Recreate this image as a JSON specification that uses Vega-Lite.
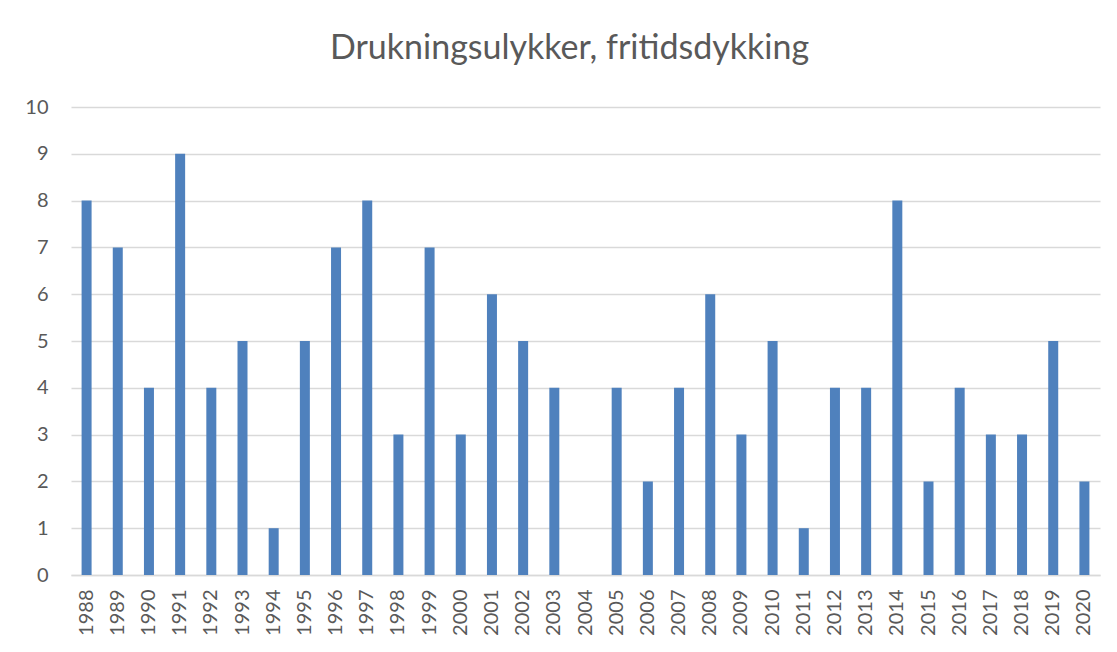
{
  "$schema": "https://vega.github.io/schema/vega-lite/v6.json",
  "autosize": {"type": "none"},
  "width": 1029,
  "height": 468,
  "padding": {"left": 71, "top": 107, "right": 17, "bottom": 77},
  "background": "white",
  "title": {
    "text": "Drukningsulykker, fritidsdykking",
    "font": "Lato",
    "fontSize": 34,
    "fontWeight": "normal",
    "color": "#595959",
    "anchor": "middle",
    "frame": "group",
    "dx": -16,
    "baseline": "alphabetic",
    "offset": 4
  },
  "data": {
    "values": [
      {"year": "1988", "count": 8},
      {"year": "1989", "count": 7},
      {"year": "1990", "count": 4},
      {"year": "1991", "count": 9},
      {"year": "1992", "count": 4},
      {"year": "1993", "count": 5},
      {"year": "1994", "count": 1},
      {"year": "1995", "count": 5},
      {"year": "1996", "count": 7},
      {"year": "1997", "count": 8},
      {"year": "1998", "count": 3},
      {"year": "1999", "count": 7},
      {"year": "2000", "count": 3},
      {"year": "2001", "count": 6},
      {"year": "2002", "count": 5},
      {"year": "2003", "count": 4},
      {"year": "2004", "count": 0},
      {"year": "2005", "count": 4},
      {"year": "2006", "count": 2},
      {"year": "2007", "count": 4},
      {"year": "2008", "count": 6},
      {"year": "2009", "count": 3},
      {"year": "2010", "count": 5},
      {"year": "2011", "count": 1},
      {"year": "2012", "count": 4},
      {"year": "2013", "count": 4},
      {"year": "2014", "count": 8},
      {"year": "2015", "count": 2},
      {"year": "2016", "count": 4},
      {"year": "2017", "count": 3},
      {"year": "2018", "count": 3},
      {"year": "2019", "count": 5},
      {"year": "2020", "count": 2}
    ]
  },
  "mark": {"type": "bar", "color": "#4F81BD", "width": 10},
  "encoding": {
    "x": {
      "field": "year",
      "type": "ordinal",
      "sort": null,
      "scale": {"paddingInner": 0, "paddingOuter": 0},
      "axis": {
        "title": null,
        "labelAngle": -90,
        "labelAlign": "right",
        "labelBaseline": "middle",
        "labelPadding": 14,
        "labelFont": "Lato",
        "labelFontSize": 20,
        "labelColor": "#595959",
        "ticks": false,
        "domainColor": "#d9d9d9",
        "domainWidth": 1.5,
        "grid": false
      }
    },
    "y": {
      "field": "count",
      "type": "quantitative",
      "scale": {"domain": [0, 10], "nice": false},
      "axis": {
        "title": null,
        "values": [0, 1, 2, 3, 4, 5, 6, 7, 8, 9, 10],
        "labelFont": "Lato",
        "labelFontSize": 20,
        "labelColor": "#595959",
        "labelPadding": 23,
        "ticks": false,
        "domain": false,
        "gridColor": "#d9d9d9",
        "gridWidth": 1.3
      }
    }
  },
  "config": {"view": {"stroke": null}}
}
